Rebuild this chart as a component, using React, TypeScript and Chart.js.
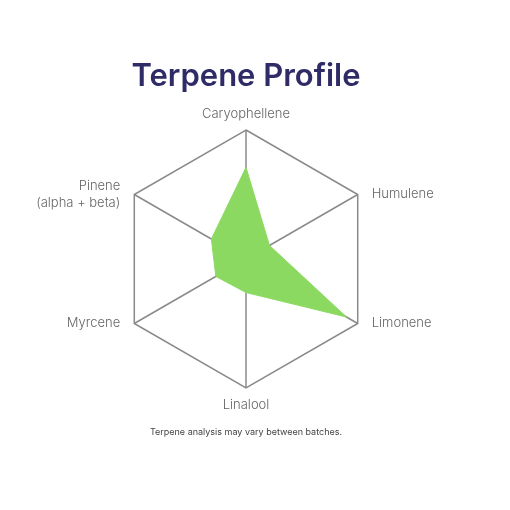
import React, { useEffect, useRef } from "react";
import { Chart, registerables } from "chart.js";

Chart.register(...registerables);

const categories: (string | string[])[] = [
  "Caryophellene",
  "Humulene",
  "Limonene",
  "Linalool",
  "Myrcene",
  ["Pinene", "(alpha + beta)"],
];
const values = [71, 21, 90, 26, 27, 31];
const titleText = "Terpene Profile";
const footerText = "Terpene analysis may vary between batches.";

const labelPlugin = {
  id: "centeredPointLabels",
  afterDraw(chart: any) {
    const scale = chart.scales.r;
    const ctx = chart.ctx;
    const labels = chart.data.labels as (string | string[])[];
    ctx.save();
    ctx.font = "300 13px Inter";
    ctx.fillStyle = "#666";
    ctx.textBaseline = "middle";
    const lh = 17;
    labels.forEach((lab, i) => {
      const pos = scale.getPointPosition(i, scale.drawingArea);
      const dx = pos.x - scale.xCenter;
      const dy = pos.y - scale.yCenter;
      const lines = Array.isArray(lab) ? lab : [lab];
      let x = pos.x;
      let y = pos.y;
      if (Math.abs(dx) < 1) {
        ctx.textAlign = "center";
        y = pos.y + (dy < 0 ? -16 : 17);
      } else {
        ctx.textAlign = dx > 0 ? "left" : "right";
        x = pos.x + (dx > 0 ? 14 : -14);
      }
      const startY = y - ((lines.length - 1) * lh) / 2;
      lines.forEach((ln, k) => ctx.fillText(ln, x, startY + k * lh));
    });
    ctx.restore();
  },
};

export default function App() {
  const ref = useRef<HTMLCanvasElement>(null);
  useEffect(() => {
    if (!ref.current) return;
    const chart = new Chart(ref.current, {
      type: "radar",
      data: {
        labels: categories,
        datasets: [
          {
            data: values,
            backgroundColor: "#8cd962",
            borderColor: "#8cd962",
            borderWidth: 1,
            pointRadius: 0,
            fill: true,
          },
        ],
      },
      options: {
        animation: false,
        responsive: true,
        maintainAspectRatio: false,
        layout: { padding: { left: 60, right: 60, top: 0, bottom: 0 } },
        plugins: {
          legend: { display: false },
          tooltip: { enabled: false },
          title: {
            display: true,
            text: titleText,
            color: "#2e2b66",
            font: { family: "Inter", size: 31, weight: "600" },
            padding: { top: 50, bottom: 34.8 },
          },
          subtitle: {
            display: true,
            position: "bottom",
            text: footerText,
            color: "#444",
            font: { family: "Inter", size: 9 },
            padding: { top: 38.6, bottom: 50.6 },
          },
        },
        scales: {
          r: {
            min: 0,
            max: 100,
            ticks: { display: false, stepSize: 100 },
            grid: { color: "#8a8a8a", lineWidth: 1.5 },
            angleLines: { color: "#8a8a8a", lineWidth: 1.5 },
            pointLabels: { display: false },
          },
        },
      },
      plugins: [labelPlugin],
    });
    return () => chart.destroy();
  }, []);
  return (
    <div style={{ width: 476, height: 480 }}>
      <canvas ref={ref} />
    </div>
  );
}
